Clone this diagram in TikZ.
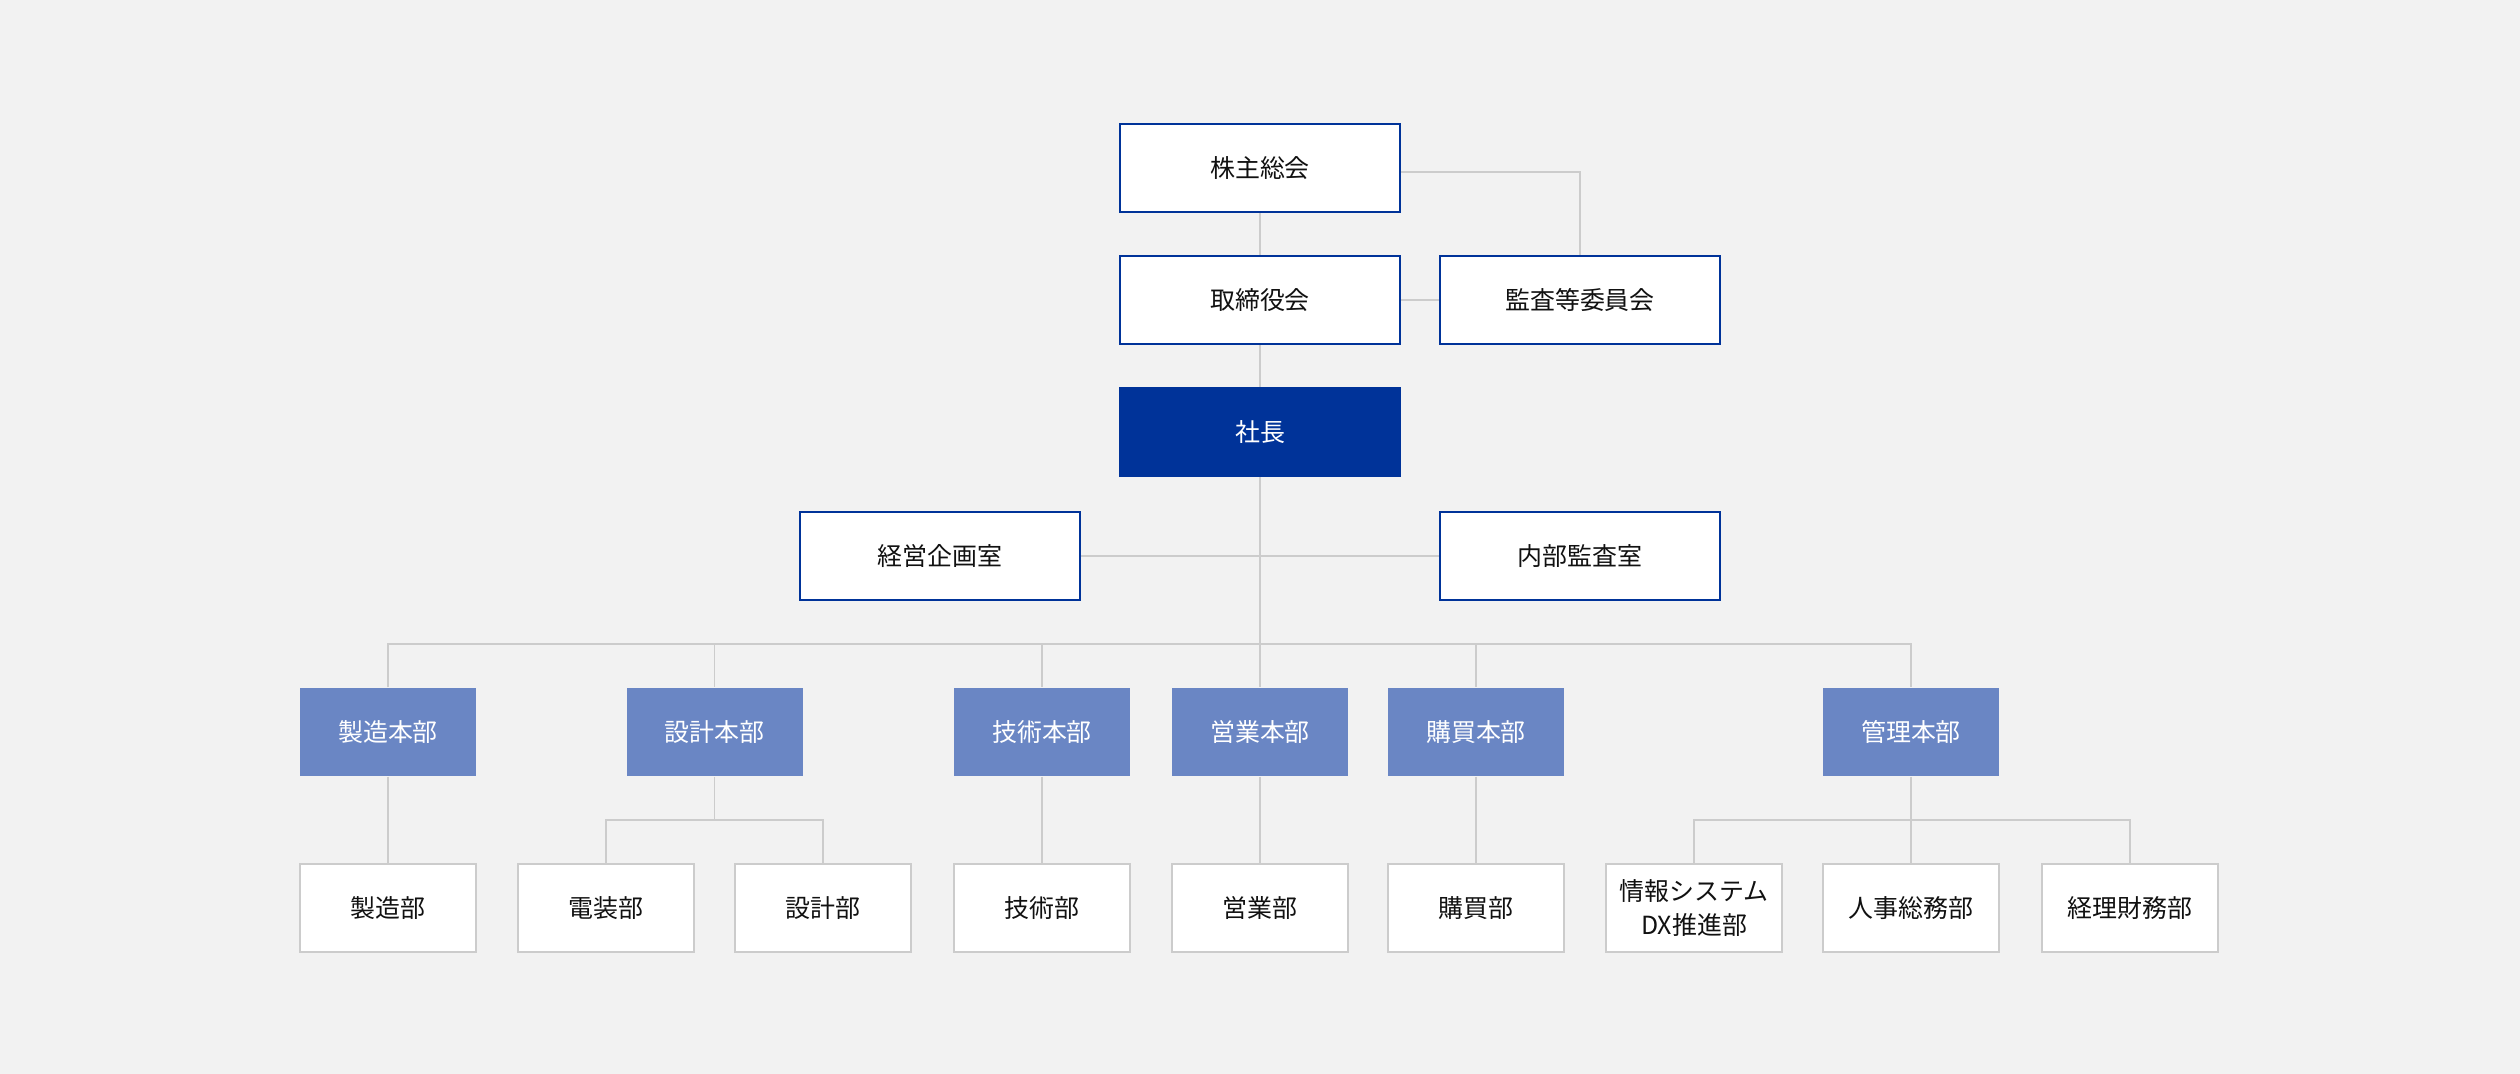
\documentclass[tikz,border=0pt]{standalone}
\usepackage{fontspec}
\usepackage{xcolor}
\usepackage{tikz}
\usetikzlibrary{shapes,positioning}
\newfontfamily\jpfont{Noto Sans CJK JP}
\definecolor{bgcol}{HTML}{F2F2F2}
\definecolor{navy}{HTML}{003399}
\definecolor{midblue}{HTML}{6A86C4}
\definecolor{linegray}{HTML}{CCCCCC}
\definecolor{txt}{HTML}{111111}
\tikzstyle{topbox} = [rectangle, draw=navy, line width=0.6pt, fill=white, text=txt, minimum width=2.8cm, minimum height=0.88cm, inner sep=0pt, font=\jpfont\fontsize{7.1}{9.5}\selectfont]
\tikzstyle{ceobox} = [topbox, fill=navy, text=white]
\tikzstyle{divbox} = [rectangle, fill=midblue, text=white, minimum width=1.76cm, minimum height=0.88cm, inner sep=0pt, font=\jpfont\fontsize{7.1}{9.5}\selectfont]
\tikzstyle{deptbox} = [rectangle, draw=linegray, line width=0.6pt, fill=white, text=txt, minimum width=1.76cm, minimum height=0.88cm, inner sep=0pt, align=center, font=\jpfont\fontsize{7.1}{9.5}\selectfont]
\tikzstyle{link} = [draw=linegray, line width=0.55pt]

\begin{document}
\begin{tikzpicture}
        \fill[bgcol] (0,0) rectangle (25.2,10.74);
        \useasboundingbox (0,0) rectangle (25.2,10.74);

        % top
        \node[topbox] (kabu) at (12.6,9.06) {株主総会};
        \node[topbox] (tori) at (12.6,7.74) {取締役会};
        \node[topbox] (kansa) at (15.8,7.74) {監査等委員会};
        \node[ceobox] (shacho) at (12.6,6.42) {社長};
        \node[topbox] (keiei) at (9.4,5.18) {経営企画室};
        \node[topbox] (naibu) at (15.8,5.18) {内部監査室};

        % 本部
        \node[divbox] (seizo) at (3.88,3.42) {製造本部};
        \node[divbox] (sekkei) at (7.145,3.42) {設計本部};
        \node[divbox] (gijutsu) at (10.42,3.42) {技術本部};
        \node[divbox] (eigyo) at (12.6,3.42) {営業本部};
        \node[divbox] (koubai) at (14.76,3.42) {購買本部};
        \node[divbox] (kanri) at (19.11,3.42) {管理本部};

        % 部
        \node[deptbox] (seizobu) at (3.88,1.66) {製造部};
        \node[deptbox] (denso) at (6.06,1.66) {電装部};
        \node[deptbox] (sekkeibu) at (8.23,1.66) {設計部};
        \node[deptbox] (gijutsubu) at (10.42,1.66) {技術部};
        \node[deptbox] (eigyobu) at (12.6,1.66) {営業部};
        \node[deptbox] (koubaibu) at (14.76,1.66) {購買部};
        \node[deptbox] (joho) at (16.94,1.66) {情報システム\\DX推進部};
        \node[deptbox] (jinji) at (19.11,1.66) {人事総務部};
        \node[deptbox] (keiri) at (21.3,1.66) {経理財務部};

        \coordinate (bus) at (12.6,4.30);
        \coordinate (sbus) at (7.145,2.54);
        \coordinate (kbus) at (19.11,2.54);

        \draw[link] (kabu) -- (tori);
        \draw[link] ([yshift=-0.04cm]kabu.east) -| (kansa.north);
        \draw[link] (tori) -- (kansa);
        \draw[link] (tori) -- (shacho);
        \draw[link] (shacho) -- (eigyo);
        \draw[link] (keiei) -- (naibu);

        \draw[link] (seizo.north) |- (bus) -| (kanri.north);
        \draw[link] (bus -| sekkei) -- (sekkei);
        \draw[link] (bus -| gijutsu) -- (gijutsu);
        \draw[link] (bus -| koubai) -- (koubai);

        \draw[link] (seizo) -- (seizobu);
        \draw[link] (sekkei) -- (sbus);
        \draw[link] (denso.north) |- (sbus) -| (sekkeibu.north);
        \draw[link] (gijutsu) -- (gijutsubu);
        \draw[link] (eigyo) -- (eigyobu);
        \draw[link] (koubai) -- (koubaibu);
        \draw[link] (kanri) -- (jinji);
        \draw[link] (joho.north) |- (kbus) -| (keiri.north);
    \end{tikzpicture}
\end{document}
